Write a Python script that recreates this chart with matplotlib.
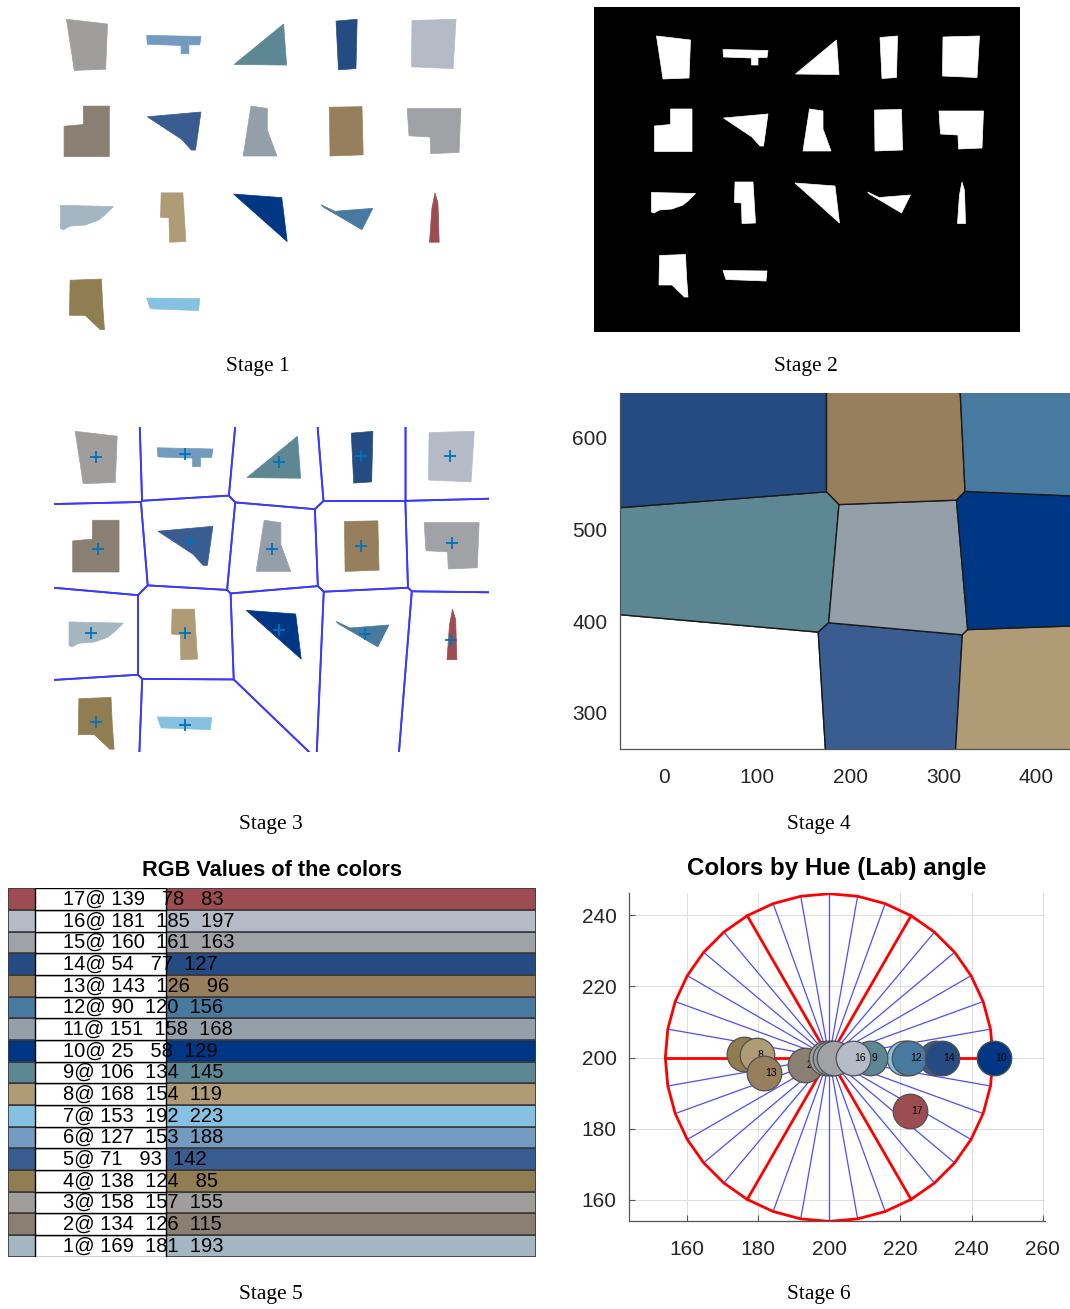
import numpy as np
import matplotlib
matplotlib.use('Agg')
import matplotlib.pyplot as plt
from matplotlib.patches import Polygon

plt.rcParams['font.family'] = ['Liberation Sans', 'DejaVu Sans']

# 색상 표 (RGB, 번호 1..17)
RGB = [
    (169, 181, 193), (134, 126, 115), (158, 157, 155), (138, 124, 85),
    (71, 93, 142), (127, 153, 188), (153, 192, 223), (168, 154, 119),
    (106, 134, 145), (25, 58, 129), (151, 158, 168), (90, 120, 156),
    (143, 126, 96), (54, 77, 127), (160, 161, 163), (181, 185, 197),
    (139, 78, 83),
]

# 도형 (원본 영상 좌표 col,row) 과 색 번호, 행 우선 순서
SHAPE_COLOR = [3, 6, 9, 14, 16, 2, 5, 11, 13, 15, 1, 8, 10, 12, 17, 4, 7]
SHAPES = [
    [(139, 60), (207, 68), (204, 144), (152, 146)],
    [(272, 87), (362, 89), (360, 103), (342, 103), (342, 118), (329, 118), (329, 104), (273, 102)],
    [(417, 136), (499, 68), (504, 137)],
    [(586, 63), (621, 60), (619, 143), (590, 145)],
    [(712, 62), (785, 60), (780, 143), (711, 140)],
    [(167, 206), (210, 206), (210, 291), (135, 291), (135, 240), (167, 237)],
    [(273, 224), (362, 216), (353, 280), (346, 280), (330, 262)],
    [(445, 206), (472, 210), (472, 246), (488, 290), (432, 290)],
    [(575, 208), (629, 207), (631, 288), (576, 290)],
    [(704, 210), (793, 210), (790, 284), (743, 286), (742, 258), (707, 256)],
    [(129, 373), (217, 375), (203, 389), (192, 398), (170, 406), (145, 408), (134, 414), (129, 412)],
    [(296, 352), (332, 352), (337, 434), (310, 435), (309, 394), (295, 393)],
    [(416, 354), (496, 360), (505, 434)],
    [(561, 372), (584, 383), (647, 378), (629, 414), (565, 376)],
    [(750, 352), (755, 369), (757, 435), (741, 435), (745, 378)],
    [(145, 499), (197, 497), (199, 541), (202, 582), (195, 582), (170, 558), (144, 558)],
    [(272, 529), (360, 530), (358, 550), (278, 547)],
]

# 무게중심 (+ 표시), col,row
SITES = [
    (172.7, 101.7), (317.3, 97.3), (469.5, 110.9), (601.8, 100.6), (745.9, 100.6),
    (176.4, 253.8), (326.0, 241.8), (457.2, 253.8), (601.8, 248.3), (749.6, 243.9),
    (164.1, 391.7), (317.3, 391.7), (468.5, 386.3), (608.7, 392.3), (747.5, 403.2),
    (173.2, 536.8), (316.3, 542.2),
]

# Stage 6: 색 번호 1..17 의 위치
HUE_X = [200.5, 193.2, 199.1, 176.0, 230.0, 221.8, 221.0, 179.7, 211.5, 246.2,
         200.2, 222.5, 181.7, 231.6, 201.3, 206.6, 222.8]
HUE_Y = [200.0, 198.0, 200.0, 201.0, 200.0, 200.0, 200.0, 200.6, 200.0, 200.0,
         200.0, 200.0, 195.7, 200.0, 200.0, 200.0, 184.9]
HUE_RADIUS = 46
HUE_CENTER = (200, 200)
SPOKE_STEP = 10   # 도
MAJOR_STEP = 60   # 빨간 선

IMG_COLS = (14, 866)
IMG_ROWS = (2, 652)

W, H = 1070, 1309
fig = plt.figure(figsize=(W / 100, H / 100), dpi=100)

# 원본 그림은 Adobe RGB 로 해석되어 표시됨 -> sRGB 로 변환해서 같은 색으로 보이게
ADOBE_TO_SRGB = np.array([[1.39835, -0.39835, 0.0],
                          [0.0, 1.0, 0.0],
                          [0.0, -0.04293, 1.04293]])


def rgb(k):
    lin = (np.array(RGB[k - 1]) / 255.0) ** 2.19921875
    s = np.clip(ADOBE_TO_SRGB @ lin, 0, 1)
    enc = np.where(s <= 0.0031308, 12.92 * s, 1.055 * s ** (1 / 2.4) - 0.055)
    return tuple(np.clip(enc, 0, 1))


def px_axes(l, t, r, b):
    return fig.add_axes([l / W, 1 - b / H, (r - l) / W, (b - t) / H])


def clip_halfplane(poly, n, c):
    out = []
    m = len(poly)
    for k in range(m):
        p, q = poly[k], poly[(k + 1) % m]
        dp, dq = n @ p - c, n @ q - c
        if dp <= 0:
            out.append(p)
        if dp * dq < 0:
            t = dp / (dp - dq)
            out.append(p + t * (q - p))
    return np.array(out)


def voronoi_cells(sites):
    box = np.array([[-3000.0, -3000.0], [4000.0, -3000.0], [4000.0, 4000.0], [-3000.0, 4000.0]])
    cells = []
    for i, s in enumerate(sites):
        poly = box.copy()
        for j, o in enumerate(sites):
            if i != j:
                poly = clip_halfplane(poly, 2 * (o - s), o @ o - s @ s)
        cells.append(poly)
    return cells


def draw_shapes(ax, white=False):
    for verts, cid in zip(SHAPES, SHAPE_COLOR):
        col = 'white' if white else rgb(cid)
        ax.add_patch(Polygon(verts, closed=True, facecolor=col, edgecolor=col, lw=0.5))


def image_axes(l, t, r, b, xlim=IMG_COLS, ylim=IMG_ROWS, bg='white'):
    ax = px_axes(l, t, r, b)
    ax.set_xlim(*xlim)
    ax.set_ylim(ylim[1], ylim[0])
    ax.set_facecolor(bg)
    for sp in ax.spines.values():
        sp.set_visible(False)
    ax.set_xticks([])
    ax.set_yticks([])
    return ax


sites = np.array(SITES, dtype=float)
cells = voronoi_cells(sites)

# Stage 1
ax1 = image_axes(-8.9, -15.2, 504.9, 371.2)
ax1.patch.set_alpha(0)
draw_shapes(ax1)

# Stage 2
ax2 = image_axes(594, 7, 1020, 332, bg='black')
draw_shapes(ax2, white=True)

# Stage 3
ax3 = image_axes(54, 426.7, 489, 751.7, xlim=(104.7, 809), ylim=(52.4, 586.1))
draw_shapes(ax3)
for cell in cells:
    ax3.add_patch(Polygon(cell, closed=True, fill=False, edgecolor='#3a3aff', lw=1.3))
ax3.plot(sites[:, 0], sites[:, 1], '+', color='#0072BD', ms=8, mew=1.3)

# Stage 4 (row, col 축)
ax4 = px_axes(620, 393, 1070, 749)
for cell, cid in zip(cells, SHAPE_COLOR):
    face = 'white' if cid == 6 else rgb(cid)
    ax4.add_patch(Polygon(cell[:, ::-1], closed=True, facecolor=face,
                          edgecolor='#1a1a1a', lw=1.0, zorder=2))
ax4.set_xlim(-47.6, 436.2)
ax4.set_ylim(260.4, 648.8)
ax4.set_xticks([0, 100, 200, 300, 400])
ax4.set_yticks([300, 400, 500, 600])
ax4.set_axisbelow(True)

# Stage 5 표
ax5 = px_axes(8, 888.3, 536, 1256.6)
idx = np.arange(1, len(RGB) + 1)
ax5.barh(idx, 1.0, left=0, height=1.0, color=[rgb(k) for k in idx],
         edgecolor='#3a3a3a', lw=1.2)
ax5.barh(idx, 0.248, left=0.051, height=1.0, color='white', edgecolor='black', lw=1.0)
for k in idx:
    nums = ''.join(f'{v:5d}' for v in RGB[k - 1]).lstrip()
    ax5.text(0.104, k, f'{k}@ {nums}', fontsize=14.5, va='center', ha='left', color='black')
ax5.set_xlim(0, 1)
ax5.set_ylim(0.5, len(RGB) + 0.5)
ax5.axis('off')
fig.text(272 / W, 1 - 870 / H, 'RGB Values of the colors', fontsize=15.7,
         fontweight='bold', ha='center', va='center')

# Stage 6
ax6 = px_axes(629, 892.7, 1045, 1221)
cx, cy = HUE_CENTER
for deg in range(0, 360, SPOKE_STEP):
    a = np.deg2rad(deg)
    red = deg % MAJOR_STEP == 0
    ax6.plot([cx, cx + HUE_RADIUS * np.cos(a)], [cy, cy + HUE_RADIUS * np.sin(a)],
             color='red' if red else (0.3, 0.3, 1.0), lw=2.0 if red else 0.9,
             zorder=3 if red else 2)
ring = np.deg2rad(np.arange(0, 360 + SPOKE_STEP, SPOKE_STEP))
ax6.plot(cx + HUE_RADIUS * np.cos(ring), cy + HUE_RADIUS * np.sin(ring), color='red', lw=2.0, zorder=3)
for k in idx:
    x, y = HUE_X[k - 1], HUE_Y[k - 1]
    ax6.scatter([x], [y], s=620, color=[rgb(k)], edgecolor='#505050', lw=0.9, zorder=4 + 2 * k)
    ax6.text(x + 0.3, y, str(k), fontsize=7.5, ha='left', va='center', zorder=5 + 2 * k)
ax6.set_xlim(143.8, 260.6)
ax6.set_ylim(154.1, 246.3)
ax6.set_xticks(np.arange(160, 261, 20))
ax6.set_yticks(np.arange(160, 241, 20))
ax6.grid(True, color='#dedede', lw=0.7)
ax6.set_axisbelow(True)
fig.text(837 / W, 1 - 868 / H, 'Colors by Hue (Lab) angle', fontsize=17.4,
         fontweight='bold', ha='center', va='center')

for ax in (ax4, ax6):
    ax.spines['top'].set_visible(False)
    ax.spines['right'].set_visible(False)
    for s in ('left', 'bottom'):
        ax.spines[s].set_color('#555555')
        ax.spines[s].set_linewidth(0.9)
    ax.tick_params(direction='in', length=4, color='#555555', labelsize=15,
                   labelcolor='#262626', top=False, right=False)
    ax.tick_params(axis='x', pad=14)
    ax.tick_params(axis='y', pad=9)

# 캡션
captions = [('Stage 1', 258, 366), ('Stage 2', 806, 366), ('Stage 3', 271, 825),
            ('Stage 4', 819, 825), ('Stage 5', 271, 1295), ('Stage 6', 819, 1295)]
for txt, x, y in captions:
    fig.text(x / W, 1 - y / H, txt, family=['Liberation Serif', 'DejaVu Serif'],
             fontsize=15.5, ha='center', va='center', zorder=10)

fig.savefig('out.png', dpi=100)
